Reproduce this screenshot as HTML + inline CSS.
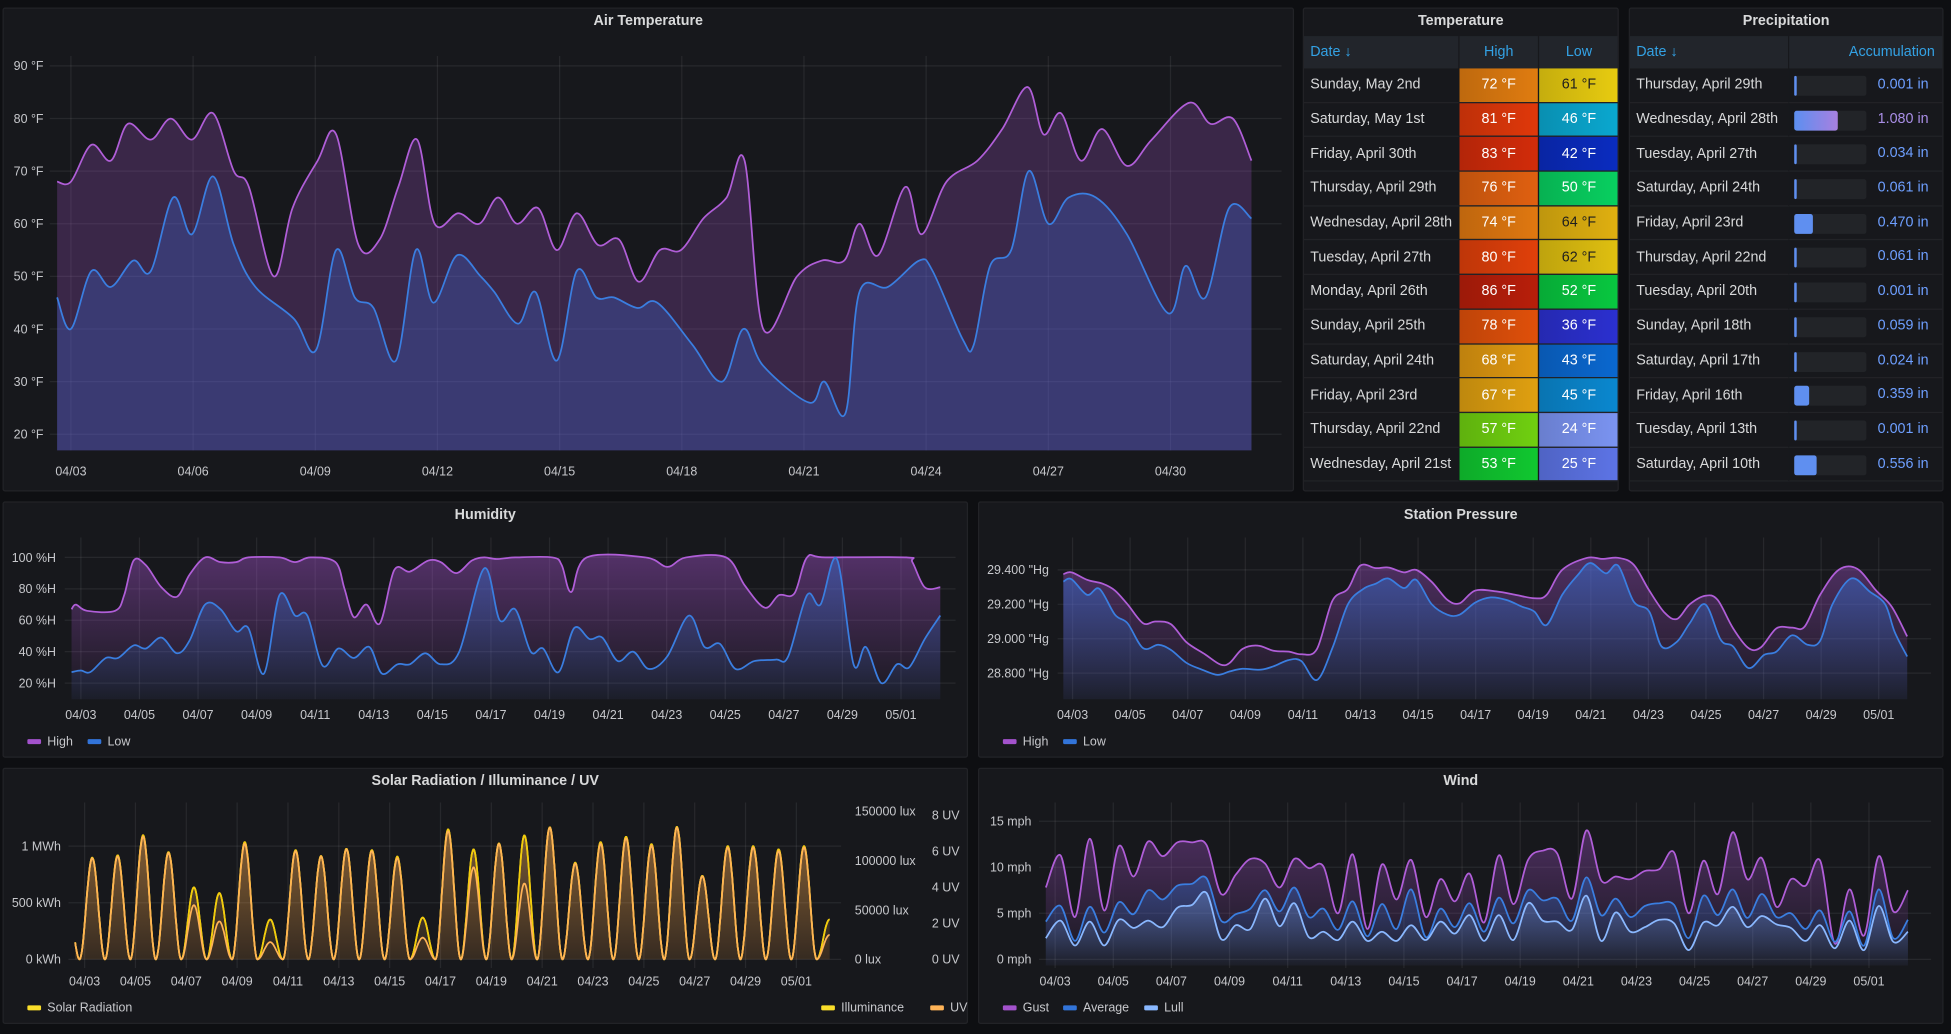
<!DOCTYPE html>
<html><head><meta charset="utf-8"><style>
html,body{margin:0;padding:0;background:#0e0f12;width:1951px;height:1034px;overflow:hidden;font-family:"Liberation Sans",sans-serif;}
#wrap{position:absolute;left:0;top:0;width:1568px;height:831px;transform:scale(1.24426);transform-origin:0 0;}
.panel{position:absolute;background:#17181c;border:1px solid #222327;border-radius:2px;box-sizing:border-box;}
.ptitle{position:absolute;left:0;right:0;top:4px;text-align:center;color:#d8d9da;font-size:11.5px;font-weight:bold;}
#charts{position:absolute;left:0;top:0;pointer-events:none;}
table{border-collapse:separate;border-spacing:0;position:absolute;left:0;top:22px;width:100%;font-size:11.5px;color:#d8d9da;table-layout:fixed;}
th{background:#22252b;color:#33a2e5;font-weight:normal;height:26px;padding:0 5px;border-right:1px solid #17181c;}
td{height:26.7px;padding:0 5px;border-bottom:1px solid #222327;border-right:1px solid #17181c;white-space:nowrap;overflow:hidden;}
td.c{text-align:center;}
</style></head><body>
<div id="wrap">
<div class="panel" style="left:2px;top:6px;width:1038px;height:389px"><div class="ptitle">Air Temperature</div></div>
<div class="panel" style="left:1047px;top:6px;width:254px;height:389px;overflow:hidden"><div class="ptitle">Temperature</div>
<table id="ttab"><colgroup><col style="width:125px"><col style="width:64px"><col style="width:65px"></colgroup>
<thead><tr><th style="text-align:left">Date ↓</th><th>High</th><th>Low</th></tr></thead><tbody id="tbody"></tbody></table></div>
<div class="panel" style="left:1309px;top:6px;width:253px;height:389px;overflow:hidden"><div class="ptitle">Precipitation</div>
<table><colgroup><col style="width:128px"><col style="width:125px"></colgroup>
<thead><tr><th style="text-align:left">Date ↓</th><th style="text-align:right;padding-right:7px">Accumulation</th></tr></thead><tbody id="pbody"></tbody></table></div>
<div class="panel" style="left:2px;top:403px;width:776px;height:206px"><div class="ptitle">Humidity</div></div>
<div class="panel" style="left:786px;top:403px;width:776px;height:206px"><div class="ptitle">Station Pressure</div></div>
<div class="panel" style="left:2px;top:617px;width:776px;height:206px"><div class="ptitle">Solar Radiation / Illuminance / UV</div></div>
<div class="panel" style="left:786px;top:617px;width:776px;height:206px"><div class="ptitle">Wind</div></div>
<svg id="charts" width="1568" height="831" xmlns="http://www.w3.org/2000/svg">
<defs>
<linearGradient id="gHumHi" x1="0" y1="440" x2="0" y2="562" gradientUnits="userSpaceOnUse"><stop offset="0" stop-color="#a352cc" stop-opacity="0.45"/><stop offset="1" stop-color="#a352cc" stop-opacity="0.02"/></linearGradient>
<linearGradient id="gHumLo" x1="0" y1="440" x2="0" y2="562" gradientUnits="userSpaceOnUse"><stop offset="0" stop-color="#3274d9" stop-opacity="0.45"/><stop offset="1" stop-color="#3274d9" stop-opacity="0.05"/></linearGradient>
<linearGradient id="gPrHi" x1="0" y1="450" x2="0" y2="565" gradientUnits="userSpaceOnUse"><stop offset="0" stop-color="#a352cc" stop-opacity="0.4"/><stop offset="1" stop-color="#a352cc" stop-opacity="0.02"/></linearGradient>
<linearGradient id="gPrLo" x1="0" y1="450" x2="0" y2="565" gradientUnits="userSpaceOnUse"><stop offset="0" stop-color="#3274d9" stop-opacity="0.5"/><stop offset="1" stop-color="#3274d9" stop-opacity="0.05"/></linearGradient>
<linearGradient id="gSol" x1="0" y1="650" x2="0" y2="775" gradientUnits="userSpaceOnUse"><stop offset="0" stop-color="#ffb357" stop-opacity="0.5"/><stop offset="1" stop-color="#ffb357" stop-opacity="0.05"/></linearGradient>
<linearGradient id="gWG" x1="0" y1="660" x2="0" y2="775" gradientUnits="userSpaceOnUse"><stop offset="0" stop-color="#a352cc" stop-opacity="0.4"/><stop offset="1" stop-color="#a352cc" stop-opacity="0.02"/></linearGradient>
<linearGradient id="gWA" x1="0" y1="700" x2="0" y2="775" gradientUnits="userSpaceOnUse"><stop offset="0" stop-color="#3274d9" stop-opacity="0.4"/><stop offset="1" stop-color="#3274d9" stop-opacity="0.03"/></linearGradient>
<linearGradient id="gWL" x1="0" y1="710" x2="0" y2="775" gradientUnits="userSpaceOnUse"><stop offset="0" stop-color="#8ab8ff" stop-opacity="0.3"/><stop offset="1" stop-color="#8ab8ff" stop-opacity="0.02"/></linearGradient>
</defs>
</svg>
</div>
<script>
// ---------- Air temperature ----------
const airHighT=[2.66,3.0,3.5,3.98,4.4,4.96,5.45,5.97,6.49,7.0,7.37,7.98,8.44,9.06,9.51,10.06,10.58,11.04,11.5,11.93,12.51,13.03,13.49,13.95,14.47,14.93,15.42,15.94,16.46,16.94,17.46,17.98,18.53,19.1,19.54,20.0,20.83,21.44,21.99,22.36,22.82,23.49,23.89,24.5,25.26,25.87,26.49,26.88,27.31,27.8,28.32,28.93,29.54,30.46,30.98,31.53,31.99];
const airHighV=[68,68,75,72,79,76,80,76,81,70,67,50,63,72,77,56,57,67,76,60,62,60,65,60,63,55,62,56,57,49,55,55,61,65,72,40,50,53,53,60,54,67,58,68,72,78,86,77,81,72,78,71,76,83,79,80,72];
const airLowT=[2.66,3.0,3.5,3.98,4.53,4.96,5.51,5.97,6.49,7.0,7.53,8.47,9.02,9.51,9.97,10.43,10.98,11.47,11.9,12.48,13.06,13.4,13.98,14.41,14.93,15.42,15.9,16.33,16.91,17.4,18.26,18.99,19.51,20.0,21.13,21.5,22.02,22.36,23.06,23.83,24.16,24.9,25.17,25.57,26.09,26.52,27.0,27.5,28.17,28.93,29.94,30.37,30.86,31.44,31.99];
const airLowV=[46,40,51,48,53,51,65,58,69,56,48,42,36,55,46,44,34,55,45,54,50,47,41,47,34,51,46,46,44,45,37,30,40,33,26,30,24,47,48,53,51,38,37,52,55,70,60,65,65,58,43,52,46,63,61];
const airYTicks=[20,30,40,50,60,70,80,90];
const airXTicks=[3,6,9,12,15,18,21,24,27,30];
// ---------- Humidity ----------
const humHighT=[2.68,2.83,3.21,4.17,4.48,4.8,5.22,5.75,6.28,6.71,7.24,7.77,8.3,8.72,9.78,10.31,10.84,11.69,12.0,12.32,12.75,13.21,13.7,14.23,14.86,15.29,15.82,16.35,16.77,17.19,17.83,19.1,19.42,19.74,20.27,22.28,23.02,23.66,25.03,25.67,26.35,26.83,27.36,27.79,28.42,31.18,31.39,31.81,32.34];
const humHighV=[67,70,66,66,76,98,95,81,75,89,100,97,97,100,100,97,100,97,80,62,70,58,92,91,98,97,90,98,100,99,100,100,95,78,100,100,94,100,100,82,68,76,77,100,100,100,97,81,81];
const humLowT=[2.68,3.0,3.32,3.85,4.27,4.8,5.22,5.75,6.28,6.71,7.24,7.77,8.3,8.72,9.25,9.78,10.31,10.73,11.26,11.79,12.32,12.85,13.28,13.81,14.23,14.76,15.29,15.92,16.77,17.3,17.83,18.36,18.78,19.31,19.84,20.37,20.8,21.33,21.86,22.39,23.02,23.76,24.29,24.82,25.35,25.99,26.73,27.15,27.79,28.25,28.81,29.38,29.8,30.33,30.86,31.28,31.81,32.34];
const humLowV=[27,28,27,36,36,44,42,49,39,47,70,67,53,55,26,76,63,63,31,42,36,43,26,32,32,39,32,40,93,60,67,40,42,27,55,48,49,34,40,29,37,63,43,45,29,34,35,37,76,70,99,32,43,20,32,30,48,63];
const humYTicks=[20,40,60,80,100];
const twoDayTicks=[3,5,7,9,11,13,15,17,19,21,23,25,27,29,31];
// ---------- Pressure ----------
const presHighT=[2.68,2.96,3.49,4.02,4.44,4.87,5.4,5.82,6.35,6.88,7.51,8.04,8.36,8.79,9.32,9.85,10.38,10.8,11.33,11.86,12.39,12.81,13.34,13.77,14.3,14.72,15.25,15.78,16.2,16.73,17.48,18.11,18.75,19.17,19.7,20.55,21.08,21.61,22.14,22.67,23.2,23.62,24.05,24.58,25.0,25.53,26.06,26.48,27.01,27.54,27.97,28.5,29.13,29.77,30.41,30.94,31.47];
const presHighV=[29.375,29.386,29.342,29.32,29.28,29.2,29.09,29.1,29.085,28.98,28.91,28.85,28.86,28.94,28.96,28.93,28.925,28.91,28.94,29.22,29.29,29.425,29.41,29.414,29.386,29.4,29.33,29.226,29.206,29.28,29.274,29.255,29.235,29.255,29.4,29.47,29.464,29.47,29.43,29.28,29.15,29.115,29.2,29.25,29.226,29.06,28.945,28.95,29.06,29.065,29.07,29.255,29.4,29.406,29.28,29.187,29.013];
const presLowT=[2.68,2.96,3.49,3.91,4.44,4.87,5.4,5.92,6.35,6.88,7.41,7.94,8.36,8.79,9.42,9.85,10.38,10.8,11.33,11.86,12.39,12.92,13.34,13.77,14.3,14.72,15.25,15.78,16.2,16.73,17.26,17.79,18.32,18.75,19.17,19.7,20.23,20.66,21.19,21.61,22.14,22.67,23.09,23.62,24.05,24.58,25.11,25.53,26.06,26.59,27.01,27.54,28.07,28.5,28.92,29.56,30.19,30.72,31.04,31.47];
const presLowV=[29.332,29.346,29.255,29.29,29.14,29.09,28.945,28.965,28.935,28.86,28.82,28.79,28.81,28.825,28.82,28.84,28.877,28.87,28.76,28.945,29.2,29.29,29.32,29.35,29.294,29.342,29.2,29.14,29.14,29.21,29.24,29.226,29.187,29.158,29.08,29.255,29.37,29.44,29.38,29.425,29.216,29.158,28.955,28.984,29.09,29.2,28.993,28.955,28.83,28.906,28.925,29.02,28.965,28.988,29.2,29.35,29.274,29.2,29.04,28.897];
const presYTicks=[28.8,29.0,29.2,29.4];
// ---------- Solar (daily peaks, days 2..32) ----------
const solarDays=[2,3,4,5,6,7,8,9,10,11,12,13,14,15,16,17,18,19,20,21,22,23,24,25,26,27,28,29,30,31,32];
const solarPeakKWh=[580,898,918,1096,947,635,585,1035,351,965,912,977,965,907,368,1146,971,1023,1094,1167,854,1035,1082,1018,1170,737,1000,1000,971,1000,351];
const illumPeakLux=[66000,103000,105400,125800,108700,72800,67100,118800,40300,110700,104700,112100,110700,104000,42300,131600,111400,117500,125500,133900,98000,118800,124200,116800,134200,84600,114800,114800,111400,114800,40300];
const uvPeak=[3.6,5.6,5.7,6.8,5.9,3.0,2.1,6.4,0.95,6.0,5.7,6.1,6.0,5.6,1.2,7.1,5.1,6.4,4.2,7.3,5.3,6.4,6.7,6.3,7.3,4.6,6.2,6.2,6.0,6.2,1.35];
const solarTicks=[0,500,1000];const solarTickLabels=['0 kWh','500 kWh','1 MWh'];
const luxTicks=[0,50000,100000,150000];
const uvTicks=[0,2,4,6,8];
// ---------- Wind (12-hourly samples) ----------
const windStart=2.68, windEnd=32.34;
const windGust=[7.8,11.3,4.6,13.1,5.3,12.3,9.0,12.8,11.2,12.7,12.7,12.4,7.1,9.2,10.9,10.4,7.8,10.9,9.9,10.1,5.0,11.4,3.3,10.3,6.5,10.8,4.6,8.7,6.3,9.3,4.0,11.3,6.0,10.8,11.8,11.5,6.6,14.0,8.6,9.0,8.7,9.6,9.8,11.6,5.0,10.7,7.1,13.8,8.7,11.0,5.7,8.7,8.0,10.7,1.7,7.6,2.6,11.2,5.2,7.5];
const windAvg=[4.1,5.8,2.0,5.7,2.9,6.2,4.9,7.5,6.5,8.0,8.2,8.8,4.2,4.9,5.5,7.5,5.2,7.8,4.6,5.5,3.2,6.3,2.5,6.0,3.3,7.6,2.4,5.5,3.5,6.1,3.0,6.7,3.9,7.5,6.4,6.6,4.2,8.9,4.8,6.6,4.6,5.8,6.1,5.9,2.3,6.9,4.8,7.6,4.5,7.1,4.6,5.0,3.3,5.3,1.9,5.2,1.5,7.6,2.3,4.3];
const windLull=[2.3,4.2,1.5,4.1,1.5,4.3,3.4,4.2,3.5,5.6,5.9,7.2,2.2,3.7,3.3,6.6,3.6,6.1,2.4,3.0,2.1,4.1,2.0,3.0,2.0,3.7,2.1,4.1,2.8,4.8,2.0,4.8,2.1,6.1,4.2,4.1,3.2,6.9,2.0,5.1,3.0,3.5,4.3,3.9,1.0,4.0,3.7,5.7,3.5,4.7,3.8,3.4,2.0,3.7,1.2,4.2,1.0,5.8,1.9,3.0];
const windYTicks=[0,5,10,15];
// ---------- Tables ----------
const tempDates=['Sunday, May 2nd','Saturday, May 1st','Friday, April 30th','Thursday, April 29th','Wednesday, April 28th','Tuesday, April 27th','Monday, April 26th','Sunday, April 25th','Saturday, April 24th','Friday, April 23rd','Thursday, April 22nd','Wednesday, April 21st'];
const tempHigh=[72,81,83,76,74,80,86,78,68,67,57,53];
const tempLow=[61,46,42,50,64,62,52,36,43,45,24,25];
const precipDates=['Thursday, April 29th','Wednesday, April 28th','Tuesday, April 27th','Saturday, April 24th','Friday, April 23rd','Thursday, April 22nd','Tuesday, April 20th','Sunday, April 18th','Saturday, April 17th','Friday, April 16th','Tuesday, April 13th','Saturday, April 10th'];
const precipIn=[0.001,1.080,0.034,0.061,0.470,0.061,0.001,0.059,0.024,0.359,0.001,0.556];

const NS='http://www.w3.org/2000/svg';
const svg=document.getElementById('charts');
function mk(tag,attrs,parent){const e=document.createElementNS(NS,tag);for(const k in attrs)e.setAttribute(k,attrs[k]);(parent||svg).appendChild(e);return e;}
function smooth(p){let d='M'+p[0][0].toFixed(1)+','+p[0][1].toFixed(1);const n=p.length;
 for(let i=0;i<n-1;i++){const p0=p[Math.max(i-1,0)],p1=p[i],p2=p[i+1],p3=p[Math.min(i+2,n-1)];
 const c1x=p1[0]+(p2[0]-p0[0])/6,c1y=p1[1]+(p2[1]-p0[1])/6,c2x=p2[0]-(p3[0]-p1[0])/6,c2y=p2[1]-(p3[1]-p1[1])/6;
 d+=` C${c1x.toFixed(1)},${c1y.toFixed(1)} ${c2x.toFixed(1)},${c2y.toFixed(1)} ${p2[0].toFixed(1)},${p2[1].toFixed(1)}`;}return d;}
function poly(p){return 'M'+p.map(q=>q[0].toFixed(1)+','+q[1].toFixed(1)).join(' L');}
function dayLabel(d){return d<=30?('04/'+String(d).padStart(2,'0')):('05/'+String(d-30).padStart(2,'0'));}
function txt(x,y,s,anchor,name,size){const t=mk('text',{x:x,y:y,'text-anchor':anchor,fill:'#c7c8cc','font-size':size||10,'font-family':'Liberation Sans, sans-serif'});t.textContent=s;
 
 
 return t;}
function grid(c){
 c.yTicks.forEach((v,i)=>{const y=c.y(v);
  const l=mk('line',{x1:c.gx0,x2:c.gx1,y1:y,y2:y,stroke:'#ffffff','stroke-opacity':0.07});
  
  
  txt(c.ylx,y+3.5,c.yFmt(v,i),'end',c.id+'-y-tick-label');});
 c.xTicks.forEach(d=>{const x=c.x(d);
  const l=mk('line',{x1:x,x2:x,y1:c.gy0,y2:c.gy1,stroke:'#ffffff','stroke-opacity':0.07});
  
  
  txt(x,c.xly,dayLabel(d),'middle',c.id+'-x-tick-label');});}
function series(c,T,V,color,fill,name,yf,lw){const y=yf||c.y;const p=T.map((t,i)=>[c.x(t),y(V[i])]);
 const d=smooth(p);
 const a=mk('path',{d:d+` L${p[p.length-1][0].toFixed(1)},${c.bottom} L${p[0][0].toFixed(1)},${c.bottom} Z`,fill:fill,stroke:'none'});
 
 
 const l=mk('path',{d:d,fill:'none',stroke:color,'stroke-width':lw||1.4});
 
 }
function legend(x,y,items,pre){let cx=x;items.forEach(it=>{const r=mk('rect',{x:cx,y:y-4,width:11,height:4,rx:1,fill:it[1]});
 
 
 const t=txt(cx+16,y+1,it[0],'start',pre+'-legend-entry',10);
 cx+=16+it[0].length*5.6+10;});}

const air={id:'air',x:d=>57+(d-3)*32.73,y:v=>349-(v-20)*4.229,gx0:40,gx1:1030,gy0:45,gy1:362,ylx:35,xly:382,bottom:362,yTicks:airYTicks,xTicks:airXTicks,yFmt:v=>v+' °F'};
grid(air);
series(air,airHighT,airHighV,'#b05ed8','rgba(163,82,204,0.25)','air-high');
series(air,airLowT,airLowV,'#3a7ee0','rgba(60,110,230,0.27)','air-low');

const hum={id:'humidity',x:d=>65+(d-3)*23.54,y:v=>549-(v-20)*1.2625,gx0:52,gx1:768,gy0:432,gy1:562,ylx:45,xly:578,bottom:562,yTicks:humYTicks,xTicks:twoDayTicks,yFmt:v=>v+' %H'};
grid(hum);
series(hum,humHighT,humHighV,'#b05ed8','url(#gHumHi)','humidity-high');
series(hum,humLowT,humLowV,'#3a7ee0','url(#gHumLo)','humidity-low');
legend(22,598,[['High','#a352cc'],['Low','#3274d9']],'humidity');

const presHighTs=presHighT.map(t=>2.68+(t-2.68)*1.018);
const presLowTs=presLowT.map(t=>2.68+(t-2.68)*1.018);
const pres={id:'pressure',x:d=>862+(d-3)*23.14,y:v=>541-(v-28.8)*138.3,gx0:850,gx1:1552,gy0:432,gy1:562,ylx:843,xly:578,bottom:562,yTicks:presYTicks,xTicks:twoDayTicks,yFmt:v=>v.toFixed(3)+' "Hg'};
grid(pres);
series(pres,presHighTs,presHighV,'#b05ed8','url(#gPrHi)','pressure-high');
series(pres,presLowTs,presLowV,'#3a7ee0','url(#gPrLo)','pressure-low');
legend(806,598,[['High','#a352cc'],['Low','#3274d9']],'pressure');

const sol={id:'solar',x:d=>68+(d-3)*20.43,y:v=>771-v*0.091,gx0:55,gx1:676,gy0:645,gy1:778,ylx:49,xly:792,bottom:773,yTicks:solarTicks,xTicks:twoDayTicks,yFmt:(v,i)=>solarTickLabels[i]};
grid(sol);
const yLux=v=>771-v*0.000793, yUV=v=>771-v*14.5;
luxTicks.forEach(v=>{txt(687,yLux(v)+3.5,v+' lux','start','lux-tick-label');});
uvTicks.forEach(v=>{txt(749,yUV(v)+3.5,v+' UV','start','uv-tick-label');});
function dailyCurve(peaks){const pts=[];for(let t=2.63;t<=32.32;t+=0.02){const d=Math.floor(t+0.2);const k=solarDays.indexOf(d);const pk=k<0?0:peaks[k];const s=Math.sin(Math.PI*(t-d+0.2));pts.push([sol.x(t),pk*s*s]);}return pts;}
function solSeries(peaks,yf,color,fill,name){const p=dailyCurve(peaks).map(q=>[q[0],yf(q[1])]);const d=poly(p);
 if(fill){const a=mk('path',{d:d+` L${p[p.length-1][0].toFixed(1)},771 L${p[0][0].toFixed(1)},771 Z`,fill:fill});
 
 }
 const l=mk('path',{d:d,fill:'none',stroke:color,'stroke-width':1.4});
 
 }
solSeries(solarPeakKWh,sol.y,'#fade2a','url(#gSol)','solar-radiation');
solSeries(illumPeakLux,yLux,'#f2cc0c',null,'illuminance');
solSeries(uvPeak,yUV,'#ffb357','rgba(255,152,48,0.08)','uv');
legend(22,812,[['Solar Radiation','#fade2a']],'solar');
legend(660,812,[['Illuminance','#fade2a'],['UV','#ffb357']],'solar-right');

const windStep=(windEnd-windStart)/(windGust.length-1);
const windT=windGust.map((_,i)=>windStart+i*windStep);
const wind={id:'wind',x:d=>848+(d-3)*23.36,y:v=>771-v*7.4,gx0:835,gx1:1552,gy0:645,gy1:778,ylx:829,xly:792,bottom:776,yTicks:windYTicks,xTicks:twoDayTicks,yFmt:v=>v+' mph'};
grid(wind);
series(wind,windT,windGust,'#b05ed8','url(#gWG)','wind-gust');
series(wind,windT,windAvg,'#3a7ee0','url(#gWA)','wind-average');
series(wind,windT,windLull,'#8ab8ff','url(#gWL)','wind-lull');
legend(806,812,[['Gust','#a352cc'],['Average','#3274d9'],['Lull','#8ab8ff']],'wind');

const stops=[[24,'#7b94f2'],[25,'#5d74e6'],[36,'#2b30d0'],[42,'#0a2cc0'],[43,'#0a68d0'],[45,'#0a88d0'],[46,'#0aa8d0'],[50,'#08d060'],[52,'#08c840'],[53,'#10c830'],[57,'#70d010'],[61,'#e8cc10'],[62,'#e0c010'],[64,'#e0b010'],[67,'#e0a010'],[68,'#e09810'],[72,'#e07c10'],[74,'#e07810'],[76,'#e06010'],[78,'#e0500a'],[80,'#e0400a'],[81,'#e0380a'],[83,'#d22c0a'],[86,'#b81e0a']];
function hex(c){return [1,3,5].map(i=>parseInt(c.substr(i,2),16));}
function tcolor(v){let a=stops[0],b=stops[stops.length-1];for(let i=0;i<stops.length-1;i++){if(v>=stops[i][0]&&v<=stops[i+1][0]){a=stops[i];b=stops[i+1];break;}}
 const f=b[0]===a[0]?0:(v-a[0])/(b[0]-a[0]);const A=hex(a[1]),B=hex(b[1]);return A.map((x,i)=>Math.round(x+(B[i]-x)*f));}
function cellStyle(v){const c=tcolor(v);const dk=c.map(x=>Math.round(x*0.85));const lum=0.3*c[0]+0.59*c[1]+0.11*c[2];
 return `background:linear-gradient(90deg,rgb(${dk}),rgb(${c}));color:${lum>165?'#1e1e1e':'#ffffff'};`;}
const tb=document.getElementById('tbody');
tempDates.forEach((d,i)=>{const tr=document.createElement('tr');
 
 
 tr.innerHTML=`<td>${d}</td><td class="c" style="${cellStyle(tempHigh[i])}">${tempHigh[i]} °F</td><td class="c" style="${cellStyle(tempLow[i])}">${tempLow[i]} °F</td>`;
 tb.appendChild(tr);});
const pb=document.getElementById('pbody');
precipDates.forEach((d,i)=>{const tr=document.createElement('tr');
 
 
 const v=precipIn[i];const w=Math.max(1.5,v/1.8*58);const big=v>0.8;
 const fill=big?'linear-gradient(90deg,#5c8ff0,#a880e0)':'#5f8ff0';
 tr.innerHTML=`<td>${d}</td><td style="position:relative"><div style="position:absolute;left:4px;top:6px;width:58px;height:16px;background:#222428;border-radius:2px"><div style="width:${w}px;height:16px;background:${fill};border-radius:2px"></div></div><span style="position:absolute;right:12px;top:7px;color:${big?'#a98ee6':'#6e9fff'}">${v.toFixed(3)} in</span></td>`;
 pb.appendChild(tr);});
</script>
</body></html>
